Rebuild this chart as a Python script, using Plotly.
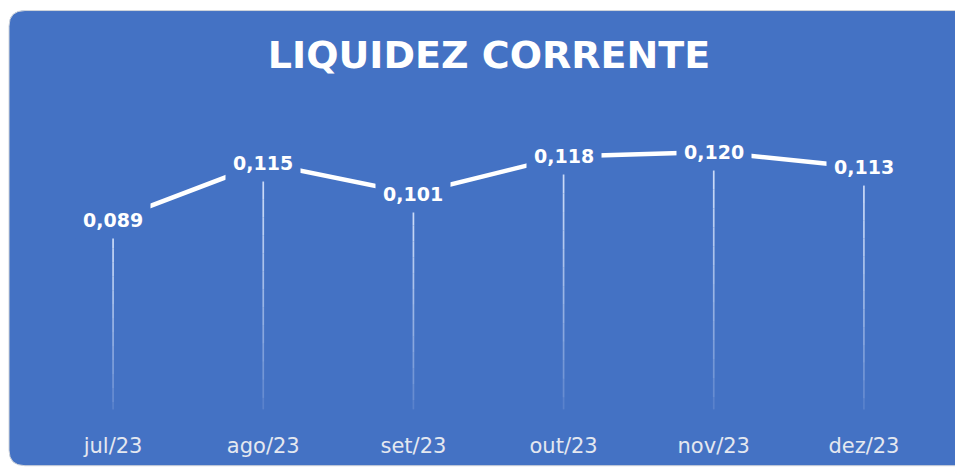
import plotly.graph_objects as go

categories = ["jul/23", "ago/23", "set/23", "out/23", "nov/23", "dez/23"]
values = [0.089, 0.115, 0.101, 0.118, 0.120, 0.113]
labels = ["0,089", "0,115", "0,101", "0,118", "0,120", "0,113"]
title_text = "LIQUIDEZ CORRENTE"

BLUE = "#4472C4"
W, H = 955, 470
L, R, T, B = 38, 16, 108, 46
PW, PH = W - L - R, H - T - B

fig = go.Figure()

# drop lines with fading opacity, built from data values
N = 14
for i, (c, v) in enumerate(zip(categories, values)):
    for k in range(N):
        y0 = v * (1 - k / N)
        y1 = v * (1 - (k + 1) / N)
        op = 0.9 * (1 - k / N) ** 0.7
        fig.add_trace(go.Scatter(
            x=[c, c], y=[y0, max(y1, 0.003)], mode="lines",
            line=dict(color=f"rgba(225,235,255,{op:.3f})", width=1.7),
            hoverinfo="skip", showlegend=False))

fig.add_trace(go.Scatter(
    x=categories, y=values, mode="lines",
    line=dict(color="white", width=4.5),
    showlegend=False, hoverinfo="skip"))

for c, v, t in zip(categories, values, labels):
    fig.add_annotation(x=c, y=v, text=t, showarrow=False,
                       font=dict(family="DejaVu Sans", size=19, color="white", weight="bold"),
                       bgcolor=BLUE, borderpad=7)

def px_x(p):
    return (p - L) / PW

def px_y(p):
    return (H - B - p) / PH

x0, x1, y0, y1, r = 9, 975, 8, 475, 16
path = (f"M {px_x(x0+r)} {px_y(y0)} L {px_x(x1-r)} {px_y(y0)} "
        f"Q {px_x(x1)} {px_y(y0)} {px_x(x1)} {px_y(y0+r)} "
        f"L {px_x(x1)} {px_y(y1-r)} Q {px_x(x1)} {px_y(y1)} {px_x(x1-r)} {px_y(y1)} "
        f"L {px_x(x0+r)} {px_y(y1)} Q {px_x(x0)} {px_y(y1)} {px_x(x0)} {px_y(y1-r)} "
        f"L {px_x(x0)} {px_y(y0+r)} Q {px_x(x0)} {px_y(y0)} {px_x(x0+r)} {px_y(y0)} Z")
fig.add_shape(type="path", path=path, xref="paper", yref="paper",
              fillcolor=BLUE, line=dict(color="#D0D4DA", width=1), layer="below")

fig.update_layout(
    width=W, height=H,
    margin=dict(l=L, r=R, t=T, b=B),
    paper_bgcolor="white", plot_bgcolor="rgba(0,0,0,0)",
    title=dict(text=title_text, x=489 / W, xanchor="center", y=1 - 55 / H, yanchor="middle",
               font=dict(family="DejaVu Sans", size=38, color="white", weight="bold")),
    xaxis=dict(type="category", range=[-0.5, 5.5], showgrid=False, zeroline=False,
               showline=False, ticks="", tickfont=dict(family="DejaVu Sans", size=21, color="#E4E8F0"),
               ticklabelstandoff=15),
    yaxis=dict(range=[0, 0.14], visible=False, showgrid=False, zeroline=False),
    showlegend=False,
)

fig.write_html("out.html", config={"displayModeBar": False},
               post_script="document.body.style.margin='0';document.body.style.overflow='hidden';")
